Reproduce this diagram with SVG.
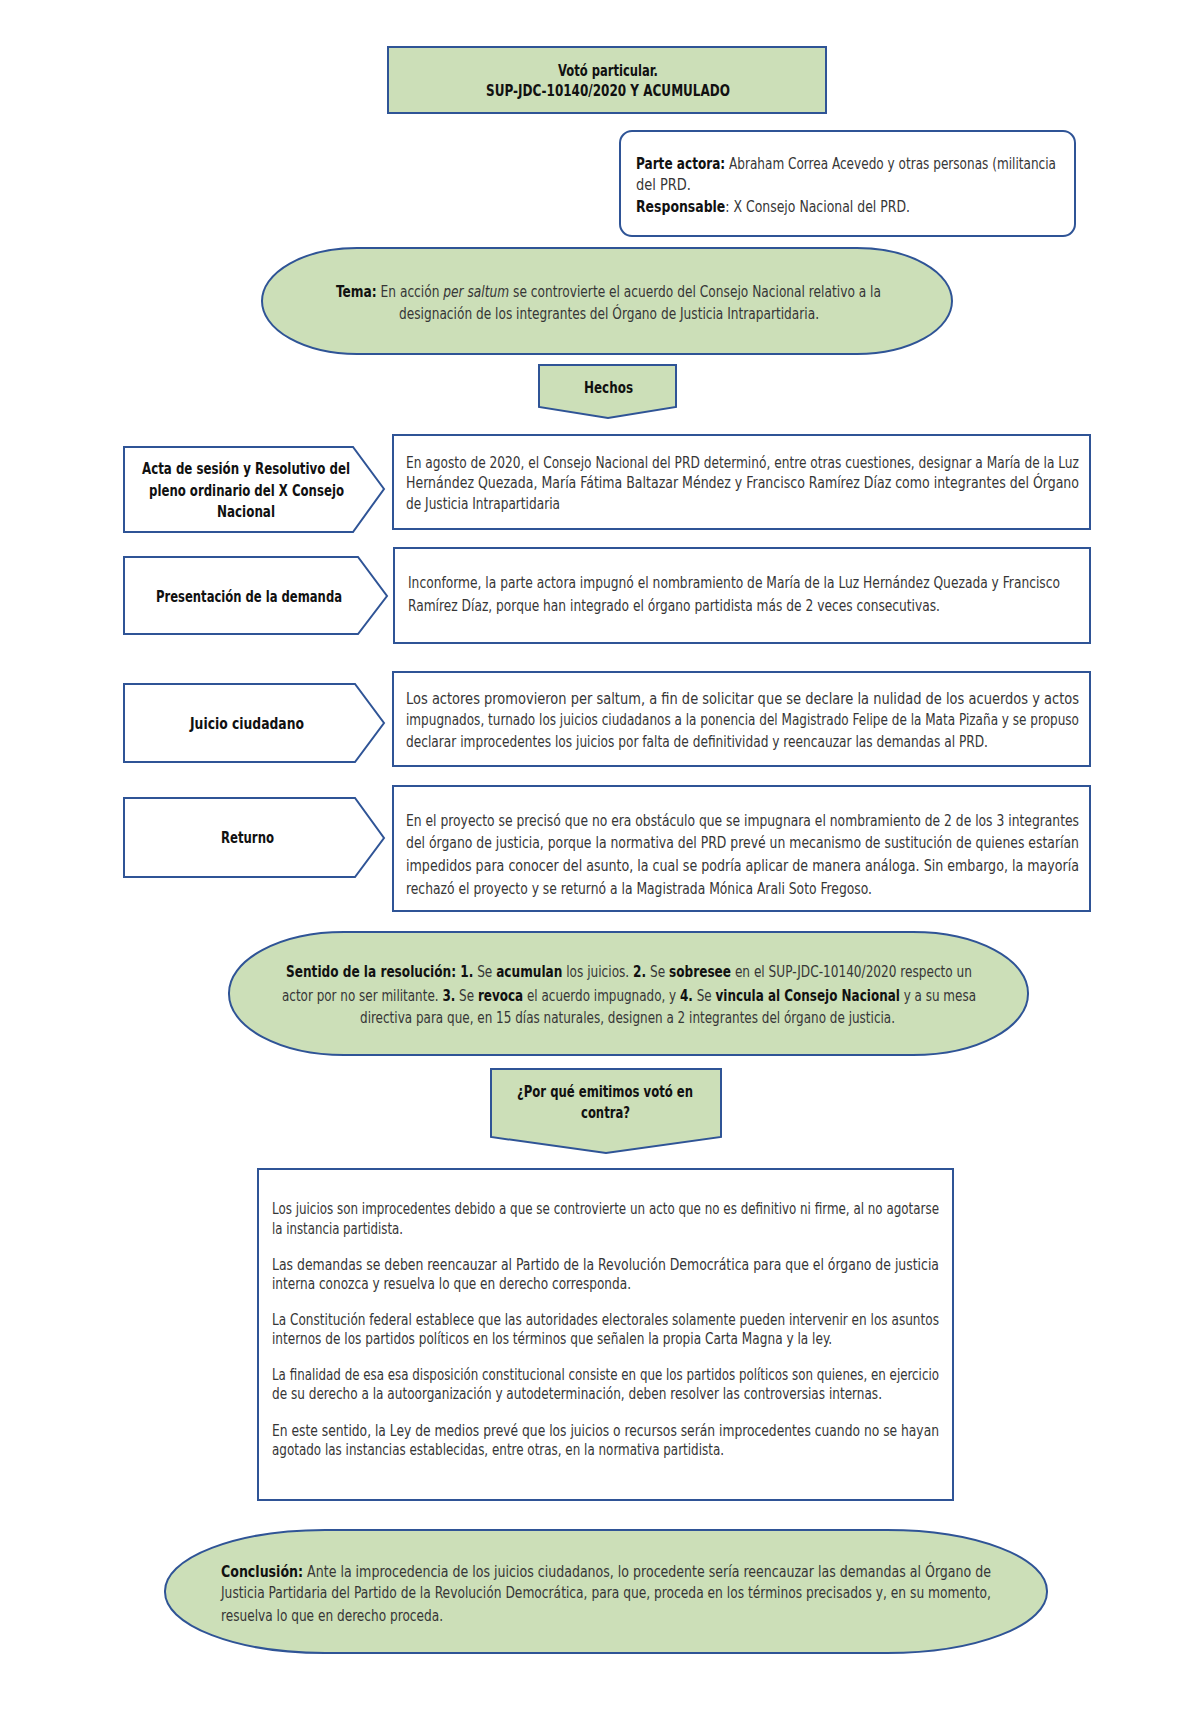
<svg xmlns="http://www.w3.org/2000/svg" width="1192" height="1720" viewBox="0 0 1192 1720">
<style>
.g{fill:#CCDFB8;stroke:#2F5496;stroke-width:2}
.w{fill:#FFFFFF;stroke:#2F5496;stroke-width:2}
text{font-family:"Liberation Sans Narrow","Arial Narrow","DejaVu Sans Condensed","Liberation Sans",sans-serif;font-size:15px;fill:#363636}
.b{font-weight:bold;fill:#111111}
.h{font-weight:bold;fill:#111111;font-size:16px}
.i{font-style:italic}
.p{font-size:15.5px}
</style>
<rect width="1192" height="1720" fill="#FFFFFF"/>
<g id="connectors"></g>
<g id="titulo">
<rect class="g" x="388" y="47" width="438" height="66"/>
<text class="h" x="558" y="76" textLength="100" lengthAdjust="spacingAndGlyphs">Votó particular.</text>
<text class="h" x="486" y="96" textLength="244" lengthAdjust="spacingAndGlyphs">SUP-JDC-10140/2020 Y ACUMULADO</text>
</g>
<g id="partes">
<rect class="w" x="620" y="131" width="455" height="105" rx="12"/>
<text x="636" y="169" textLength="420" lengthAdjust="spacingAndGlyphs"><tspan class="b">Parte actora:</tspan> Abraham Correa Acevedo y otras personas (militancia</text>
<text x="636" y="190" textLength="55" lengthAdjust="spacingAndGlyphs">del PRD.</text>
<text x="636" y="212" textLength="274" lengthAdjust="spacingAndGlyphs"><tspan class="b">Responsable</tspan>: X Consejo Nacional del PRD.</text>
</g>
<g id="tema">
<rect class="g" x="262" y="248" width="690" height="106" rx="95" ry="53"/>
<text x="336" y="297" textLength="545" lengthAdjust="spacingAndGlyphs"><tspan class="b">Tema:</tspan> En acción <tspan class="i">per saltum</tspan> se controvierte el acuerdo del Consejo Nacional relativo a la</text>
<text x="399" y="319" textLength="420" lengthAdjust="spacingAndGlyphs">designación de los integrantes del Órgano de Justicia Intrapartidaria.</text>
</g>
<g id="hechos">
<path class="g" d="M539,365 H676 V407 L608,418 L539,407 Z"/>
<text class="h" x="584" y="393" textLength="49" lengthAdjust="spacingAndGlyphs">Hechos</text>
</g>
<g id="acta">
<path class="w" d="M124,447 H353 L384,489 L353,532 H124 Z"/>
<text class="h" x="142" y="474" textLength="208" lengthAdjust="spacingAndGlyphs">Acta de sesión y Resolutivo del</text>
<text class="h" x="149" y="496" textLength="195" lengthAdjust="spacingAndGlyphs">pleno ordinario del X Consejo</text>
<text class="h" x="217" y="517" textLength="58" lengthAdjust="spacingAndGlyphs">Nacional</text>
</g>
<g id="hecho1">
<rect class="w" x="393" y="435" width="697" height="94"/>
<text x="406" y="468" textLength="673" lengthAdjust="spacingAndGlyphs">En agosto de 2020, el Consejo Nacional del PRD determinó, entre otras cuestiones, designar a María de la Luz</text>
<text x="406" y="488" textLength="673" lengthAdjust="spacingAndGlyphs">Hernández Quezada, María Fátima Baltazar Méndez y Francisco Ramírez Díaz como integrantes del Órgano</text>
<text x="406" y="509" textLength="154" lengthAdjust="spacingAndGlyphs">de Justicia Intrapartidaria</text>
</g>
<g id="presentacion">
<path class="w" d="M124,557 H358 L387,596 L358,634 H124 Z"/>
<text class="h" x="156" y="602" textLength="186" lengthAdjust="spacingAndGlyphs">Presentación de la demanda</text>
</g>
<g id="hecho2">
<rect class="w" x="394" y="548" width="696" height="95"/>
<text x="408" y="588" textLength="652" lengthAdjust="spacingAndGlyphs">Inconforme, la parte actora impugnó el nombramiento de María de la Luz Hernández Quezada y Francisco</text>
<text x="408" y="611" textLength="532" lengthAdjust="spacingAndGlyphs">Ramírez Díaz, porque han integrado el órgano partidista más de 2 veces consecutivas.</text>
</g>
<g id="juicio">
<path class="w" d="M124,684 H355 L384,723 L355,762 H124 Z"/>
<text class="h" x="190" y="729" textLength="114" lengthAdjust="spacingAndGlyphs">Juicio ciudadano</text>
</g>
<g id="hecho3">
<rect class="w" x="393" y="672" width="697" height="94"/>
<text x="406" y="704" textLength="673" lengthAdjust="spacingAndGlyphs">Los actores promovieron per saltum, a fin de solicitar que se declare la nulidad de los acuerdos y actos</text>
<text x="406" y="725" textLength="673" lengthAdjust="spacingAndGlyphs">impugnados, turnado los juicios ciudadanos a la ponencia del Magistrado Felipe de la Mata Pizaña y se propuso</text>
<text x="406" y="747" textLength="582" lengthAdjust="spacingAndGlyphs">declarar improcedentes los juicios por falta de definitividad y reencauzar las demandas al PRD.</text>
</g>
<g id="returno">
<path class="w" d="M124,798 H355 L384,838 L355,877 H124 Z"/>
<text class="h" x="221" y="843" textLength="53" lengthAdjust="spacingAndGlyphs">Returno</text>
</g>
<g id="hecho4">
<rect class="w" x="393" y="786" width="697" height="125"/>
<text x="406" y="826" textLength="673" lengthAdjust="spacingAndGlyphs">En el proyecto se precisó que no era obstáculo que se impugnara el nombramiento de 2 de los 3 integrantes</text>
<text x="406" y="848" textLength="673" lengthAdjust="spacingAndGlyphs">del órgano de justicia, porque  la normativa del PRD prevé un mecanismo de sustitución de quienes estarían</text>
<text x="406" y="871" textLength="673" lengthAdjust="spacingAndGlyphs">impedidos para conocer del asunto, la cual se podría aplicar de manera análoga. Sin embargo, la mayoría</text>
<text x="406" y="894" textLength="466" lengthAdjust="spacingAndGlyphs">rechazó el proyecto y se returnó a la Magistrada Mónica Arali Soto Fregoso.</text>
</g>
<g id="sentido">
<rect class="g" x="229" y="932" width="799" height="123" rx="115" ry="61"/>
<text x="286" y="977" textLength="686" lengthAdjust="spacingAndGlyphs"><tspan class="b">Sentido de la resolución: 1.</tspan> Se <tspan class="b">acumulan</tspan> los juicios. <tspan class="b">2.</tspan> Se <tspan class="b">sobresee</tspan> en el SUP-JDC-10140/2020 respecto un</text>
<text x="282" y="1001" textLength="694" lengthAdjust="spacingAndGlyphs">actor por no ser militante. <tspan class="b">3.</tspan> Se <tspan class="b">revoca</tspan> el acuerdo impugnado, y <tspan class="b">4.</tspan> Se <tspan class="b">vincula al Consejo Nacional</tspan> y a su mesa</text>
<text x="360" y="1023" textLength="535" lengthAdjust="spacingAndGlyphs">directiva para que, en 15 días naturales, designen a 2 integrantes del órgano de justicia.</text>
</g>
<g id="porque">
<path class="g" d="M491,1069 H721 V1137 L606,1153 L491,1137 Z"/>
<text class="h" x="517" y="1097" textLength="176" lengthAdjust="spacingAndGlyphs">¿Por qué emitimos votó en</text>
<text class="h" x="581" y="1118" textLength="49" lengthAdjust="spacingAndGlyphs">contra?</text>
</g>
<g id="razones">
<rect class="w" x="258" y="1169" width="695" height="331"/>
<text class="p" x="272" y="1214" textLength="667" lengthAdjust="spacingAndGlyphs">Los juicios son improcedentes debido a que se controvierte un acto que no es definitivo ni firme, al no agotarse</text>
<text class="p" x="272" y="1234" textLength="131" lengthAdjust="spacingAndGlyphs">la instancia partidista.</text>
<text class="p" x="272" y="1270" textLength="667" lengthAdjust="spacingAndGlyphs">Las demandas se deben reencauzar al Partido de la Revolución Democrática para que el órgano de justicia</text>
<text class="p" x="272" y="1289" textLength="359" lengthAdjust="spacingAndGlyphs">interna conozca y resuelva lo que en derecho corresponda.</text>
<text class="p" x="272" y="1325" textLength="667" lengthAdjust="spacingAndGlyphs">La Constitución federal establece que las autoridades electorales solamente pueden intervenir en los asuntos</text>
<text class="p" x="272" y="1344" textLength="560" lengthAdjust="spacingAndGlyphs">internos de los partidos políticos en los términos que señalen la propia Carta Magna y la ley.</text>
<text class="p" x="272" y="1380" textLength="667" lengthAdjust="spacingAndGlyphs">La finalidad de esa esa disposición constitucional consiste en que los partidos políticos son quienes, en ejercicio</text>
<text class="p" x="272" y="1399" textLength="610" lengthAdjust="spacingAndGlyphs">de su derecho a la autoorganización y autodeterminación, deben resolver las controversias internas.</text>
<text class="p" x="272" y="1436" textLength="667" lengthAdjust="spacingAndGlyphs">En este sentido, la Ley de medios prevé que los juicios o recursos serán improcedentes cuando no se hayan</text>
<text class="p" x="272" y="1455" textLength="452" lengthAdjust="spacingAndGlyphs">agotado las instancias establecidas, entre otras, en la normativa partidista.</text>
</g>
<g id="conclusion">
<rect class="g" x="165" y="1530" width="882" height="123" rx="160" ry="61"/>
<text class="p" x="221" y="1577" textLength="770" lengthAdjust="spacingAndGlyphs"><tspan class="b">Conclusión:</tspan> Ante la improcedencia de los juicios ciudadanos, lo procedente sería reencauzar las demandas al Órgano de</text>
<text class="p" x="221" y="1598" textLength="770" lengthAdjust="spacingAndGlyphs">Justicia Partidaria del Partido de la Revolución Democrática, para que, proceda en los términos precisados y, en su momento,</text>
<text class="p" x="221" y="1621" textLength="222" lengthAdjust="spacingAndGlyphs">resuelva lo que en derecho proceda.</text>
</g>
</svg>
